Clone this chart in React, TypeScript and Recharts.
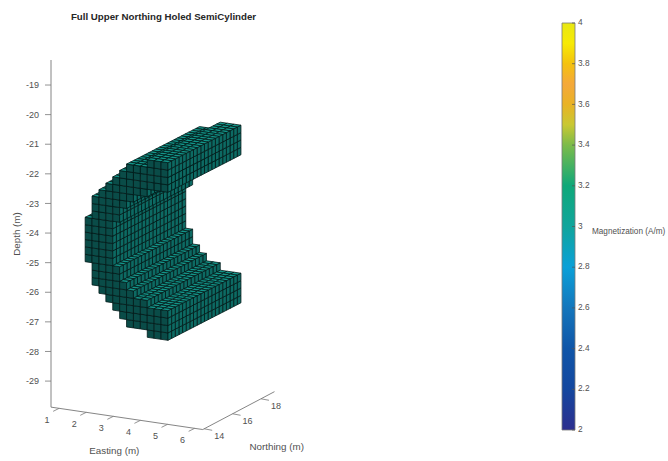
import React from "react";
import { ScatterChart, Scatter, XAxis, YAxis, ReferenceLine, BarChart, Bar } from "recharts";

// voxel body, one entry per easting column (cell size 0.25 m)
const cell = 0.25;
const eastings = [2, 2.25, 2.5, 2.75, 3, 3.25, 3.5, 3.75, 4, 4.25, 4.5, 4.75];
const bodyTop = [-23.25, -22.5, -22.25, -22, -21.75, -21.5, -21.25, -21.25, -21.25, -21, -21, -21];
const bodyBottom = [-24.75, -25.5, -25.75, -26, -26.25, -26.5, -26.75, -26.75, -26.75, -27, -27, -27];
const holeTop = [null, null, null, null, -23.25, -22.75, -22.5, -22.25, -22.25, -22, -22, -22];
const holeBottom = [null, null, null, null, -24.75, -25.25, -25.5, -25.75, -25.75, -26, -26, -26];
const northings = [14, 14.25, 14.5, 14.75, 15, 15.25, 15.5, 15.75, 16, 16.25, 16.5, 16.75, 17, 17.25, 17.5, 17.75, 18, 18.25, 18.5, 18.75];

const depthTicks = [-29, -28, -27, -26, -25, -24, -23, -22, -21, -20, -19];
const eastingTicks = [1, 2, 3, 4, 5, 6];
const northingTicks = [14, 16, 18];
const colorTicks = [2, 2.2, 2.4, 2.6, 2.8, 3, 3.2, 3.4, 3.6, 3.8, 4];
const colorStops = [
  [2, "#2d2e8e"], [2.2, "#14479f"], [2.4, "#0f55a8"], [2.6, "#1476bc"], [2.8, "#0aa0d8"], [3, "#10a59c"],
  [3.2, "#0fa879"], [3.4, "#7cbb4a"], [3.5, "#c9c833"], [3.6, "#e9b325"], [3.7, "#f5a83a"], [3.8, "#f4c20e"], [3.9, "#f7ea05"], [4, "#e8e813"],
] as [number, string][];

// view: screen shift per metre
const PX_E = [27.1, 4];
const PX_N = [14.2, -7.5];
const PX_Z = 29.6;
const E0 = 0.7, N0 = 13.9;
const project = (e: number, n: number, z: number) => ({
  vx: PX_E[0] * (e - E0) + PX_N[0] * (n - N0),
  vy: z - (PX_E[1] * (e - E0) + PX_N[1] * (n - N0)) / PX_Z,
});
const DEPTH_MIN = -29.88, DEPTH_MAX = -18.155;

// the body sits nearer the camera than the axes, so it reads a little larger
const BODY_E = 27.6, BODY_N = 14.6;
const bodyPoint = (e: number, n: number, z: number) => {
  const a = project(5, 14, z);
  return {
    vx: a.vx - 1 + BODY_E * (e - 5) + BODY_N * (n - 14),
    vy: a.vy - 2 / PX_Z - (PX_E[1] * (e - 5) + PX_N[1] * (n - 14)) / PX_Z,
  };
};

const filled = (i: number, z: number) => {
  if (i < 0 || i >= eastings.length) return false;
  if (z > bodyTop[i] - 0.01 || z < bodyBottom[i] + 0.01) return false;
  const ht = holeTop[i], hb = holeBottom[i];
  if (ht !== null && hb !== null && z < ht && z > hb) return false;
  return true;
};

type Vox = { vx: number; vy: number; f: boolean; r: boolean; t: boolean };
const voxels: Vox[] = [];
[...northings].reverse().forEach((n, ni) => {
  eastings.forEach((e, i) => {
    for (let zb = bodyBottom[i]; zb < bodyTop[i] - 0.01; zb += cell) {
      const zc = zb + cell / 2;
      if (!filled(i, zc)) continue;
      const f = ni === northings.length - 1;
      const r = !filled(i + 1, zc);
      const t = !filled(i, zc + cell);
      if (f || r || t) voxels.push({ ...bodyPoint(e, n, zb + cell), f, r, t });
    }
  });
});

const dE = [BODY_E * cell, PX_E[1] * cell];
const dN = [BODY_N * cell, PX_N[1] * cell];
const dZ = PX_Z * cell;
const TOP = "#139488", RIGHT = "#0d6a63", FRONT = "#0a4c48", EDGE = "#021a19";

const VoxelShape = (p: any) => {
  const { cx, cy, payload: v } = p;
  const pts = (l: number[][]) => l.map(q => `${cx + q[0]},${cy + q[1]}`).join(" ");
  const fe = [dE[0], dE[1]];
  return <g stroke={EDGE} strokeWidth={0.8} strokeLinejoin="round">
    {v.f && <polygon fill={FRONT} points={pts([[0, 0], fe, [fe[0], fe[1] + dZ], [0, dZ]])} />}
    {v.r && <polygon fill={RIGHT} points={pts([fe, [fe[0] + dN[0], fe[1] + dN[1]], [fe[0] + dN[0], fe[1] + dN[1] + dZ], [fe[0], fe[1] + dZ]])} />}
    {v.t && <polygon fill={TOP} points={pts([[0, 0], fe, [fe[0] + dN[0], fe[1] + dN[1]], dN])} />}
  </g>;
};

const AXIS = "#777777", INK = "#505050", FONT = "'Liberation Sans', Arial, sans-serif";
const seg = (a: { vx: number; vy: number }, dx: number, dy: number) => [
  { x: a.vx, y: a.vy },
  { x: a.vx + dx, y: a.vy - dy / PX_Z },
];
const EAST_N = 13.9, NORTH_E = 6.3;
const floorPt = (e: number, n: number) => project(e, n, DEPTH_MIN);
const eastLabels = eastingTicks.map(t => ({ ...floorPt(t, EAST_N), label: t }));
const northLabels = northingTicks.map(t => ({ ...floorPt(NORTH_E, t), label: t }));
const LabelShape = (dx: number, dy: number) => (p: any) =>
  <text x={p.cx + dx} y={p.cy + dy} textAnchor="middle" dominantBaseline="middle" fontSize={9} fill={INK} fontFamily={FONT}>{p.payload.label}</text>;

const ColorTick = (p: any) => <g>
  <line x1={p.x - 3} x2={p.x} y1={p.y} y2={p.y} stroke="#555" strokeWidth={0.7} />
  <text x={p.x + 3} y={p.y} dominantBaseline="middle" fontSize={8.3} fill={INK} fontFamily={FONT}>{p.payload.value}</text>
</g>;

const colorData = [{ name: "m", range: [2, 4] }];

export default function App() {
  return <div style={{ position: "absolute", left: 0, top: 0, width: 668, height: 461 }}>
    <div style={{ position: "absolute", left: 0, top: 0 }}>
      <ScatterChart width={330} height={461} margin={{ top: 60, right: 30, bottom: 21, left: 0 }}>
        <XAxis type="number" dataKey="vx" domain={[0, 249]} hide />
        <YAxis type="number" dataKey="vy" width={51} domain={[-30.99, DEPTH_MAX]} ticks={depthTicks} interval={0} axisLine={false}
          tick={{ fontSize: 9, fill: INK, fontFamily: FONT }} tickSize={6} tickMargin={6} tickLine={{ stroke: AXIS, strokeWidth: 0.8 }} />
        <ReferenceLine segment={[{ x: 0, y: DEPTH_MAX }, { x: 0, y: DEPTH_MIN }]} stroke={AXIS} strokeWidth={0.9} />
        <ReferenceLine segment={[floorPt(E0, EAST_N), floorPt(NORTH_E, EAST_N)].map(a => ({ x: a.vx, y: a.vy }))} stroke={AXIS} strokeWidth={0.9} />
        <ReferenceLine segment={[floorPt(NORTH_E, EAST_N), floorPt(NORTH_E, 18.95)].map(a => ({ x: a.vx, y: a.vy }))} stroke={AXIS} strokeWidth={0.9} />
        {eastLabels.map(a => <ReferenceLine key={"e" + a.label} segment={seg(a, -6, 3)} stroke={AXIS} strokeWidth={0.8} />)}
        {northLabels.map(a => <ReferenceLine key={"n" + a.label} segment={seg(a, 8, 1.5)} stroke={AXIS} strokeWidth={0.8} />)}
        <Scatter data={voxels} shape={VoxelShape} isAnimationActive={false} />
        <Scatter data={eastLabels} shape={LabelShape(-12, 12)} isAnimationActive={false} />
        <Scatter data={northLabels} shape={LabelShape(15, 8.2)} isAnimationActive={false} />
        <text x={163.5} y={17} textAnchor="middle" dominantBaseline="middle" fontSize={9.7} fontWeight="bold" fill="#262626" fontFamily={FONT}>Full Upper Northing Holed SemiCylinder</text>
        <text x={114.3} y={451.5} textAnchor="middle" dominantBaseline="middle" fontSize={9.8} fill={INK} fontFamily={FONT}>Easting (m)</text>
        <text x={276.7} y={447.7} textAnchor="middle" dominantBaseline="middle" fontSize={9.8} fill={INK} fontFamily={FONT}>Northing (m)</text>
        <text x={17} y={234} transform="rotate(-90 17 234)" textAnchor="middle" dominantBaseline="middle" fontSize={9.8} fill={INK} fontFamily={FONT}>Depth (m)</text>
      </ScatterChart>
    </div>
    <div style={{ position: "absolute", left: 540, top: 0 }}>
      <BarChart width={128} height={461} data={colorData} barCategoryGap={0} margin={{ top: 23, right: 0, bottom: 31, left: 22 }}>
        <defs>
          <linearGradient id="parula" x1="0" y1="1" x2="0" y2="0">
            {colorStops.map(([v, c]) => <stop key={v} offset={(v - 2) / 2} stopColor={c} />)}
          </linearGradient>
        </defs>
        <XAxis dataKey="name" hide />
        <YAxis orientation="right" width={93} domain={[2, 4]} ticks={colorTicks} interval={0} axisLine={false} tickLine={false} tickSize={0} tickMargin={0} tick={ColorTick} />
        <Bar dataKey="range" fill="url(#parula)" stroke="#7a7a7a" strokeWidth={0.8} isAnimationActive={false} />
        <text x={52} y={231.5} dominantBaseline="middle" fontSize={8.2} fill={INK} fontFamily={FONT}>Magnetization (A/m)</text>
      </BarChart>
    </div>
  </div>;
}
